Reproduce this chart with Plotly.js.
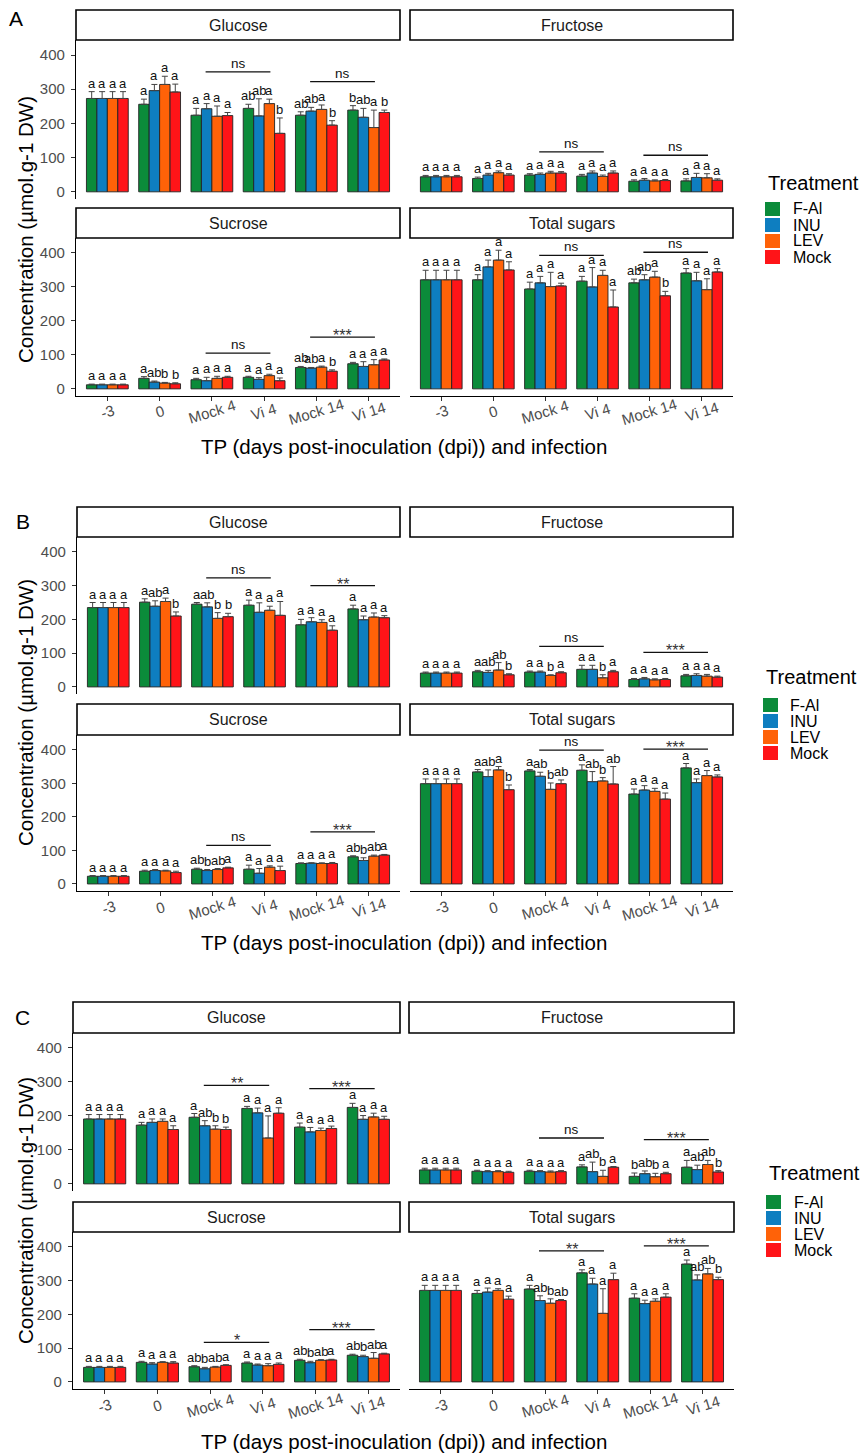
<!DOCTYPE html>
<html><head><meta charset="utf-8">
<script src="https://cdn.plot.ly/plotly-3.0.1.min.js"></script>
<style>html,body{margin:0;padding:0;background:#fff;}#chart{width:861px;height:1455px;}</style>
</head><body><div id="chart"></div>
<script>
// ---------- categories ----------
const timepoints = ['-3', '0', 'Mock 4', 'Vi 4', 'Mock 14', 'Vi 14'];
const treatments = ['F-Al', 'INU', 'LEV', 'Mock'];
const treatmentColors = ['#0B8B3A', '#0E7EC0', '#FF6208', '#FF1418'];
const sugars = ['Glucose', 'Fructose', 'Sucrose', 'Total sugars'];
const panelLabels = ['A', 'B', 'C'];
const yTicks = [0, 100, 200, 300, 400];
const bracketPairs = [['Mock 4', 'Vi 4'], ['Mock 14', 'Vi 14']];
const yTitle = 'Concentration (\u00b5mol.g-1 DW)';
const xTitle = 'TP (days post-inoculation (dpi)) and infection';
const legendTitle = 'Treatment';

// ---------- data: rows = treatments (F-Al, INU, LEV, Mock), cols = timepoints ----------
// Panel A
const A_Glucose_mean = [[273,256,224,244,224,239],[273,296,243,222,236,218],[273,314,221,258,241,188],[273,292,223,171,195,232]];
const A_Glucose_sd   = [[20,15,20,12,10,13],[20,18,15,50,11,26],[20,24,30,13,13,51],[20,23,9,45,13,7]];
const A_Glucose_letters = [['a','a','a','ab','ab','b'],['a','a','a','ab','ab','ab'],['a','a','a','a','a','a'],['a','a','a','b','b','b']];
const A_Glucose_sig = ['ns','ns'];
const A_Glucose_sigY = [351,322];

const A_Fructose_mean = [[44,39,49,46,31,32],[44,49,51,55,34,42],[44,56,55,45,32,41],[44,49,55,55,33,34]];
const A_Fructose_sd   = [[4,4,4,5,4,6],[4,5,4,6,5,12],[4,5,5,4,3,12],[4,4,4,6,3,4]];
const A_Fructose_letters = [['a','a','a','a','a','a'],['a','a','a','a','a','a'],['a','a','a','a','a','a'],['a','a','a','a','a','a']];
const A_Fructose_sig = ['ns','ns'];
const A_Fructose_sigY = [117,107];

const A_Sucrose_mean = [[12,31,27,34,63,74],[12,20,24,28,61,66],[12,17,31,39,64,71],[12,15,34,24,52,85]];
const A_Sucrose_sd   = [[2,5,4,3,3,4],[2,3,10,5,2,14],[2,2,6,4,3,15],[2,3,3,8,4,3]];
const A_Sucrose_letters = [['a','a','a','a','ab','a'],['a','ab','a','a','ab','a'],['a','b','a','a','a','a'],['a','b','a','a','b','a']];
const A_Sucrose_sig = ['ns','***'];
const A_Sucrose_sigY = [105,152];

const A_Total_mean = [[321,321,294,317,312,341],[321,359,312,300,321,318],[321,379,301,334,329,292],[321,350,303,241,274,344]];
const A_Total_sd   = [[28,15,20,14,11,13],[28,20,19,57,15,25],[28,29,42,15,17,32],[28,24,8,50,13,10]];
const A_Total_letters = [['a','a','a','a','ab','a'],['a','a','a','a','ab','a'],['a','a','a','a','a','a'],['a','a','a','a','b','a']];
const A_Total_sig = ['ns','ns'];
const A_Total_sigY = [393,402];

// Panel B
const B_Glucose_mean = [[235,251,245,242,184,231],[235,239,237,221,193,199],[235,253,203,227,191,207],[235,210,208,212,168,205]];
const B_Glucose_sd   = [[15,10,5,15,16,11],[15,16,12,28,12,11],[15,10,17,12,8,12],[15,12,10,41,13,6]];
const B_Glucose_letters = [['a','a','a','a','a','a'],['a','ab','ab','a','a','a'],['a','a','b','a','a','a'],['a','b','b','a','a','a']];
const B_Glucose_sig = ['ns','**'];
const B_Glucose_sigY = [323,300];

const B_Fructose_mean = [[41,45,44,52,22,33],[41,43,44,52,24,34],[41,50,34,27,21,32],[41,36,42,45,22,29]];
const B_Fructose_sd   = [[3,4,3,12,3,4],[3,6,3,12,4,5],[3,22,2,9,3,5],[3,3,3,4,3,3]];
const B_Fructose_letters = [['a','a','a','a','a','a'],['a','ab','a','a','a','a'],['a','ab','b','b','a','a'],['a','b','a','a','a','a']];
const B_Fructose_sig = ['ns','***'];
const B_Fructose_sigY = [120,102];

const B_Sucrose_mean = [[23,38,44,44,61,81],[23,40,40,32,62,70],[23,39,43,50,61,83],[23,34,48,40,61,86]];
const B_Sucrose_sd   = [[2,3,3,12,2,3],[2,3,3,14,1,8],[2,2,3,4,2,3],[2,4,2,13,3,2]];
const B_Sucrose_letters = [['a','a','ab','a','a','ab'],['a','a','b','a','a','b'],['a','a','ab','a','a','ab'],['a','a','a','a','a','a']];
const B_Sucrose_sig = ['ns','***'];
const B_Sucrose_sigY = [115,155];

const B_Total_mean = [[299,334,337,339,268,346],[299,320,321,305,280,302],[299,340,282,307,276,323],[299,281,299,298,253,319]];
const B_Total_sd   = [[14,7,4,16,15,13],[14,20,12,30,13,11],[14,10,19,10,9,15],[14,14,11,52,18,6]];
const B_Total_letters = [['a','a','a','a','a','a'],['a','ab','ab','ab','a','a'],['a','a','b','b','a','a'],['a','b','ab','ab','a','a']];
const B_Total_sig = ['ns','***'];
const B_Total_sigY = [399,402];

// Panel C
const C_Glucose_mean = [[191,173,196,222,167,225],[191,181,171,209,153,190],[191,184,161,135,157,197],[191,160,160,208,163,190]];
const C_Glucose_sd   = [[13,8,11,6,12,12],[13,10,15,14,13,11],[13,7,10,65,7,11],[13,11,7,16,7,9]];
const C_Glucose_letters = [['a','a','a','a','a','a'],['a','a','ab','a','a','a'],['a','a','b','a','a','a'],['a','a','b','a','a','a']];
const C_Glucose_sig = ['**','***'];
const C_Glucose_sigY = [290,280];

const C_Fructose_mean = [[41,37,37,50,22,49],[41,36,36,36,30,42],[41,36,35,22,21,57],[41,34,36,49,30,35]];
const C_Fructose_sd   = [[5,3,3,6,10,20],[5,3,3,28,8,13],[5,3,3,18,10,12],[5,3,3,2,4,4]];
const C_Fructose_letters = [['a','a','a','a','b','a'],['a','a','a','ab','ab','ab'],['a','a','a','b','b','ab'],['a','a','a','a','a','b']];
const C_Fructose_sig = ['ns','***'];
const C_Fructose_sigY = [135,130];

const C_Sucrose_mean = [[43,58,45,56,64,79],[43,53,39,50,57,75],[43,58,44,48,64,70],[43,56,49,52,65,83]];
const C_Sucrose_sd   = [[3,3,3,3,3,3],[3,4,4,3,4,4],[3,2,2,6,2,17],[3,4,2,4,2,2]];
const C_Sucrose_letters = [['a','a','ab','a','ab','ab'],['a','a','b','a','b','b'],['a','a','ab','a','ab','ab'],['a','a','a','a','a','a']];
const C_Sucrose_sig = ['*','***'];
const C_Sucrose_sigY = [117,155];

const C_Total_mean = [[271,262,275,323,248,349],[271,266,241,290,232,302],[271,271,233,203,239,320],[271,245,241,303,251,303]];
const C_Total_sd   = [[15,9,11,9,13,12],[15,12,14,17,10,15],[15,5,13,73,7,16],[15,9,3,19,10,7]];
const C_Total_letters = [['a','a','a','a','a','a'],['a','a','ab','a','a','ab'],['a','a','b','a','a','ab'],['a','a','ab','a','a','b']];
const C_Total_sig = ['**','***'];
const C_Total_sigY = [388,403];

// ---------- assemble ----------
const facetData = {
  A: [[A_Glucose_mean,A_Glucose_sd,A_Glucose_letters,A_Glucose_sig,A_Glucose_sigY],
      [A_Fructose_mean,A_Fructose_sd,A_Fructose_letters,A_Fructose_sig,A_Fructose_sigY],
      [A_Sucrose_mean,A_Sucrose_sd,A_Sucrose_letters,A_Sucrose_sig,A_Sucrose_sigY],
      [A_Total_mean,A_Total_sd,A_Total_letters,A_Total_sig,A_Total_sigY]],
  B: [[B_Glucose_mean,B_Glucose_sd,B_Glucose_letters,B_Glucose_sig,B_Glucose_sigY],
      [B_Fructose_mean,B_Fructose_sd,B_Fructose_letters,B_Fructose_sig,B_Fructose_sigY],
      [B_Sucrose_mean,B_Sucrose_sd,B_Sucrose_letters,B_Sucrose_sig,B_Sucrose_sigY],
      [B_Total_mean,B_Total_sd,B_Total_letters,B_Total_sig,B_Total_sigY]],
  C: [[C_Glucose_mean,C_Glucose_sd,C_Glucose_letters,C_Glucose_sig,C_Glucose_sigY],
      [C_Fructose_mean,C_Fructose_sd,C_Fructose_letters,C_Fructose_sig,C_Fructose_sigY],
      [C_Sucrose_mean,C_Sucrose_sd,C_Sucrose_letters,C_Sucrose_sig,C_Sucrose_sigY],
      [C_Total_mean,C_Total_sd,C_Total_letters,C_Total_sig,C_Total_sigY]]
};

const FONT = 'Liberation Sans, Arial, Helvetica, sans-serif';
const W = 861, H = 1455;
const px = v => v / W;
const py = v => 1 - v / H;

// layout geometry in page pixels
const geom = {
  A: {left:[76,400], right:[410,733], rowTop:[40,199], rowBot:[238,396], strip:[10,208], label:[16,19],
      yTitle:230, xTitle:446, legTitle:183, legRows:[209,225,241,257], legSq:765, legLab:791},
  B: {left:[77,400], right:[410,733], rowTop:[537,694], rowBot:[735,891], strip:[507,704], label:[23,521],
      yTitle:713, xTitle:942, legTitle:677, legRows:[705,721,737,753], legSq:763, legLab:788},
  C: {left:[73,400], right:[409,734], rowTop:[1033,1191], rowBot:[1232,1389], strip:[1002,1202], label:[22,1018],
      yTitle:1211, xTitle:1441, legTitle:1173, legRows:[1202,1218,1234,1250], legSq:766, legLab:792}
};

const traces = [], annotations = [], shapes = [];
const layout = {
  width: W, height: H, margin: {l:0, r:0, t:0, b:0},
  paper_bgcolor: '#ffffff', plot_bgcolor: 'rgba(0,0,0,0)',
  showlegend: false, barmode: 'group', bargap: 0.2, bargroupgap: 0,
  hovermode: false, font: {family: FONT, color: '#1a1a1a'}
};

panelLabels.forEach((P, pi) => {
  const g = geom[P];
  sugars.forEach((sugar, si) => {
    const k = pi * 4 + si + 1;
    const sfx = k === 1 ? '' : String(k);
    const xa = 'x' + sfx, ya = 'y' + sfx;
    const isLeft = si % 2 === 0, isBottom = si >= 2;
    const col = isLeft ? g.left : g.right;
    const row = isBottom ? g.rowBot : g.rowTop;
    const stripTop = isBottom ? g.strip[1] : g.strip[0];
    const [mean, sd, letters, sig, sigY] = facetData[P][si];

    layout['xaxis' + sfx] = {
      domain: [px(col[0]), px(col[1])], anchor: ya, type: 'category', range: [-0.6, 5.6],
      showgrid: false, zeroline: false, showline: isBottom, linecolor: '#000', linewidth: 1.1,
      ticks: isBottom ? 'outside' : '', ticklen: 4, tickcolor: '#333', tickwidth: 1,
      showticklabels: false, fixedrange: true
    };
    layout['yaxis' + sfx] = {
      domain: [py(row[1]), py(row[0])], anchor: xa, range: [-21, 444],
      tickmode: 'array', tickvals: yTicks, ticktext: yTicks.map(String),
      showgrid: false, zeroline: false, showline: isLeft, linecolor: '#000', linewidth: 1.1,
      ticks: isLeft ? 'outside' : '', ticklen: 4, tickcolor: '#333', tickwidth: 1,
      showticklabels: isLeft, tickfont: {size: 15, color: '#4d4d4d', family: FONT},
      ticklabelstandoff: 3, fixedrange: true
    };

    treatments.forEach((t, ti) => {
      traces.push({
        type: 'bar', name: t, x: timepoints, y: mean[ti], xaxis: xa, yaxis: ya,
        marker: {color: treatmentColors[ti], line: {color: '#222', width: 0.9}},
        error_y: {type: 'data', symmetric: false, array: sd[ti], arrayminus: sd[ti].map(() => 0),
                  color: '#444', thickness: 1, width: 3},
        hoverinfo: 'skip', showlegend: false
      });
      timepoints.forEach((tp, gi) => {
        annotations.push({
          xref: xa, yref: ya, x: gi + (ti - 1.5) * 0.2, y: mean[ti][gi] + sd[ti][gi],
          text: letters[ti][gi], showarrow: false, xanchor: 'center', yanchor: 'bottom',
          borderpad: 0, font: {size: 13, color: '#111', family: FONT}
        });
      });
    });

    // significance brackets
    bracketPairs.forEach((pair, bi) => {
      const g1 = timepoints.indexOf(pair[0]), g2 = timepoints.indexOf(pair[1]);
      shapes.push({type: 'line', xref: xa, yref: ya, x0: g1 - 0.12, x1: g2 + 0.12,
                   y0: sigY[bi], y1: sigY[bi], line: {color: '#111', width: 1.3}});
      const star = sig[bi].indexOf('*') >= 0;
      annotations.push({
        xref: xa, yref: ya, x: (g1 + g2) / 2, y: sigY[bi], text: sig[bi], showarrow: false,
        xanchor: 'center', yanchor: 'bottom', borderpad: 0, yshift: star ? -8 : 0,
        font: {size: star ? 16 : 13.5, color: star ? '#333' : '#111', family: FONT}
      });
    });

    // facet strip
    shapes.push({type: 'rect', xref: 'paper', yref: 'paper', x0: px(col[0]), x1: px(col[1]),
                 y0: py(row[0]), y1: py(stripTop), fillcolor: '#ffffff', line: {color: '#000', width: 1.6}});
    annotations.push({xref: 'paper', yref: 'paper', x: px((col[0] + col[1]) / 2), y: py((stripTop + row[0]) / 2),
                      text: sugar, showarrow: false, xanchor: 'center', yanchor: 'middle',
                      font: {size: 16, color: '#1a1a1a', family: FONT}});

    // rotated x tick labels (bottom row), placed at each category's serial position
    if (isBottom) {
      timepoints.forEach((tp, gi) => {
        annotations.push({xref: xa, yref: ya + ' domain', x: gi, y: 0, yshift: -16, textangle: -17,
                          text: tp, showarrow: false, xanchor: 'center', yanchor: 'middle',
                          font: {size: 15, color: '#4d4d4d', family: FONT}});
      });
    }
  });

  // panel letter
  annotations.push({xref: 'paper', yref: 'paper', x: px(g.label[0]), y: py(g.label[1]), text: P,
                    showarrow: false, xanchor: 'center', yanchor: 'middle', font: {size: 21, color: '#000', family: FONT}});
  // axis titles
  annotations.push({xref: 'paper', yref: 'paper', x: px(25), y: py(g.yTitle), text: yTitle, textangle: -90,
                    showarrow: false, xanchor: 'center', yanchor: 'middle', font: {size: 20.5, color: '#000', family: FONT}});
  annotations.push({xref: 'paper', yref: 'paper', x: px(404), y: py(g.xTitle), text: xTitle,
                    showarrow: false, xanchor: 'center', yanchor: 'middle', font: {size: 20.5, color: '#000', family: FONT}});
  // legend
  annotations.push({xref: 'paper', yref: 'paper', x: px(g.legSq + 1), y: py(g.legTitle), text: legendTitle,
                    showarrow: false, xanchor: 'left', yanchor: 'middle', font: {size: 20, color: '#000', family: FONT}});
  treatments.forEach((t, ti) => {
    const r = g.legRows[ti];
    shapes.push({type: 'rect', xref: 'paper', yref: 'paper', x0: px(g.legSq), x1: px(g.legSq + 15),
                 y0: py(r + 7), y1: py(r - 7), fillcolor: treatmentColors[ti], line: {width: 0}});
    annotations.push({xref: 'paper', yref: 'paper', x: px(g.legLab), y: py(r), text: t, showarrow: false,
                      xanchor: 'left', yanchor: 'middle', font: {size: 16, color: '#000', family: FONT}});
  });
});

layout.annotations = annotations;
layout.shapes = shapes;

Plotly.newPlot('chart', traces, layout, {staticPlot: true, displayModeBar: false});
</script>
</body></html>
